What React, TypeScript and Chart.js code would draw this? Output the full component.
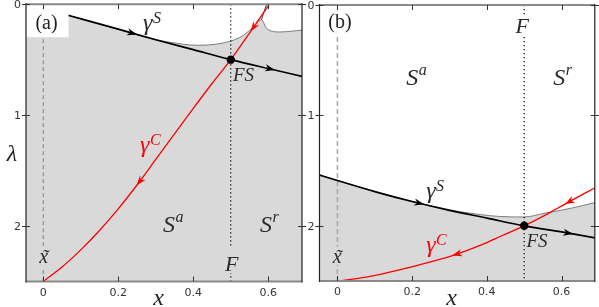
import React, { useEffect, useRef } from "react";
import { Chart, registerables } from "chart.js";
Chart.register(...registerables);

const W = 599;
const H = 307;

// ---------- shared axis ticks ----------
const xTickValues = [0, 0.2, 0.4, 0.6];
const xTickLabels = ["0", "0.2", "0.4", "0.6"];
const yTickValues = [0, 1, 2];
const yTickLabels = ["0", "1", "2"];
const lambdaMin = 0;
const lambdaMax = 2.5;

// ---------- panel (a) ----------
const aFillX = [-0.05, 0.066, 0.2, 0.3, 0.338, 0.41, 0.471, 0.524, 0.556, 0.582, 0.596, 0.631, 0.69];
const aFillL = [0.0, 0.1, 0.225, 0.32, 0.343, 0.37, 0.355, 0.3, 0.219, 0.14, 0.22, 0.25, 0.234];
const aBranchX = [0.582, 0.587, 0.596];
const aBranchL = [0.14, 0.084, 0.0];
const aStableX = [0.066, 0.2, 0.3, 0.4, 0.5, 0.6, 0.69];
const aStableL = [0.1, 0.225, 0.32, 0.41, 0.5, 0.58, 0.65];
const aCritX = [0, 0.05, 0.1, 0.15, 0.2, 0.25, 0.3, 0.35, 0.4, 0.45, 0.5, 0.55, 0.603];
const aCritL = [2.5, 2.37, 2.215, 2.04, 1.845, 1.63, 1.4, 1.17, 0.94, 0.715, 0.5, 0.26, 0.0];
const aFoldX = 0.5;
const aFoldL = 0.5;

// ---------- panel (b) ----------
const bFillX = [-0.05, 0, 0.1, 0.2, 0.3, 0.343, 0.432, 0.5, 0.556, 0.627, 0.69];
const bFillL = [1.538, 1.59, 1.69, 1.78, 1.855, 1.88, 1.915, 1.92, 1.885, 1.84, 1.789];
const bStableX = [-0.05, 0, 0.1, 0.2, 0.3, 0.4, 0.5, 0.6, 0.69];
const bStableL = [1.538, 1.59, 1.69, 1.78, 1.86, 1.93, 2.0, 2.055, 2.11];
const bCritX = [0, 0.077, 0.166, 0.254, 0.312, 0.387, 0.44, 0.5, 0.55, 0.582, 0.627, 0.69];
const bCritL = [2.5, 2.465, 2.4, 2.323, 2.265, 2.17, 2.09, 2.0, 1.915, 1.855, 1.77, 1.655];
const bFoldX = 0.5;
const bFoldL = 2.0;

const xTildeValue = 0;
const GRAY = "#d9d9d9";
const MATH = '"Liberation Serif", "DejaVu Serif", serif';

type Label = {
  base: string; sup?: string; x: number; l: number; size: number; color: string;
  raise?: number; tilde?: boolean; box?: string; boxRect?: [number, number, number, number];
};
type Arrow = { series: string; x: number; dir: number; color: string };

type Panel = {
  tag: string; tagBoxW: number; tagBoxH: number; tagBase: number;
  fillX: number[]; fillL: number[]; branchX?: number[]; branchL?: number[];
  stableX: number[]; stableL: number[]; critX: number[]; critL: number[];
  foldX: number; foldL: number; xMin: number; xMax: number;
  padding: { left: number; right: number; top: number; bottom: number };
  dashColor: string; dashWidth: number; dashPattern: number[];
  showYLabel: boolean; labels: Label[]; arrows: Arrow[];
};

const panelA: Panel = {
  tag: "(a)", tagBoxW: 42, tagBoxH: 33, tagBase: 25,
  fillX: aFillX, fillL: aFillL, branchX: aBranchX, branchL: aBranchL,
  stableX: aStableX, stableL: aStableL, critX: aCritX, critL: aCritL,
  foldX: aFoldX, foldL: aFoldL, xMin: -0.046, xMax: 0.69,
  padding: { left: 26, right: W - 302, top: 4, bottom: H - 281.5 },
  dashColor: "#808080", dashWidth: 1, dashPattern: [4, 3],
  showYLabel: true,
  labels: [
    { base: "γ", sup: "S", x: 0.266, l: 0.234, size: 24, color: "#2a2a2a", raise: 7 },
    { base: "γ", sup: "C", x: 0.258, l: 1.333, size: 24, color: "#ff0000", raise: 7 },
    { base: "S", sup: "a", x: 0.319, l: 2.054, size: 24, color: "#2a2a2a", raise: 10 },
    { base: "S", sup: "r", x: 0.578, l: 2.054, size: 24, color: "#2a2a2a", raise: 10 },
    { base: "FS", x: 0.506, l: 0.694, size: 19, color: "#2a2a2a" },
    { base: "F", x: 0.4845, l: 2.405, size: 22, color: "#2a2a2a", box: GRAY, boxRect: [-3, -25, 20, 27] },
    { base: "x", tilde: true, x: -0.011, l: 2.333, size: 20, color: "#2a2a2a", box: GRAY, boxRect: [-3, -16, 17, 20] },
  ],
  arrows: [
    { series: "stable", x: 0.25, dir: 1, color: "#000" },
    { series: "stable", x: 0.618, dir: 1, color: "#000" },
    { series: "critical", x: 0.553, dir: -1, color: "#ff0000" },
    { series: "critical", x: 0.249, dir: -1, color: "#ff0000" },
  ],
};

const panelB: Panel = {
  tag: "(b)", tagBoxW: 40, tagBoxH: 32, tagBase: 23,
  fillX: bFillX, fillL: bFillL,
  stableX: bStableX, stableL: bStableL, critX: bCritX, critL: bCritL,
  foldX: bFoldX, foldL: bFoldL, xMin: -0.048, xMax: 0.689,
  padding: { left: 319.5, right: W - 596.5, top: 5, bottom: H - 281 },
  dashColor: "#aaaaaa", dashWidth: 1.6, dashPattern: [5, 3],
  showYLabel: false,
  labels: [
    { base: "F", x: 0.477, l: 0.253, size: 22, color: "#2a2a2a", box: "#ffffff", boxRect: [-3, -16, 18, 18] },
    { base: "S", sup: "a", x: 0.184, l: 0.724, size: 24, color: "#2a2a2a", raise: 10 },
    { base: "S", sup: "r", x: 0.578, l: 0.724, size: 24, color: "#2a2a2a", raise: 10 },
    { base: "γ", sup: "S", x: 0.2375, l: 1.747, size: 24, color: "#2a2a2a", raise: 7 },
    { base: "FS", x: 0.506, l: 2.19, size: 19, color: "#2a2a2a" },
    { base: "γ", sup: "C", x: 0.2375, l: 2.235, size: 24, color: "#ff0000", raise: 7 },
    { base: "x", tilde: true, x: -0.0125, l: 2.335, size: 20, color: "#2a2a2a", box: GRAY, boxRect: [-3, -16, 16, 18] },
  ],
  arrows: [
    { series: "stable", x: 0.232, dir: 1, color: "#000" },
    { series: "stable", x: 0.631, dir: 1, color: "#000" },
    { series: "critical", x: 0.609, dir: -1, color: "#ff0000" },
    { series: "critical", x: 0.307, dir: -1, color: "#ff0000" },
  ],
};

const pts = (xs: number[], ls: number[]) => xs.map((x, i) => ({ x, y: ls[i] }));

function drawArrowHead(ctx: CanvasRenderingContext2D, tx: number, ty: number, dx: number, dy: number, color: string) {
  const len = Math.hypot(dx, dy) || 1;
  const ux = dx / len, uy = dy / len;
  const nx = -uy, ny = ux;
  const L = 10, Wd = 3.6, N = 3;
  ctx.fillStyle = color;
  ctx.beginPath();
  ctx.moveTo(tx, ty);
  ctx.lineTo(tx - L * ux + Wd * nx, ty - L * uy + Wd * ny);
  ctx.lineTo(tx - (L - N) * ux, ty - (L - N) * uy);
  ctx.lineTo(tx - L * ux - Wd * nx, ty - L * uy - Wd * ny);
  ctx.closePath();
  ctx.fill();
}

function decorPlugin(p: Panel) {
  return {
    id: "decor" + p.tag.replace(/[()]/g, ""),
    afterDatasetsDraw(chart: any) {
      const { ctx, chartArea: ca, scales } = chart;
      const X = (v: number) => scales.x.getPixelForValue(v);
      const Y = (v: number) => scales.y.getPixelForValue(v);
      ctx.save();

      // arrow heads along the library-computed line points
      for (const a of p.arrows) {
        const idx = chart.data.datasets.findIndex((d: any) => d.label === a.series);
        const el = chart.getDatasetMeta(idx).data;
        const px = X(a.x);
        for (let j = 0; j < el.length - 1; j++) {
          const p0 = el[j], p1 = el[j + 1];
          const lo = Math.min(p0.x, p1.x), hi = Math.max(p0.x, p1.x);
          if (px >= lo && px <= hi) {
            const t = (px - p0.x) / (p1.x - p0.x || 1);
            const py = p0.y + t * (p1.y - p0.y);
            const dx = (p1.x - p0.x) * a.dir, dy = (p1.y - p0.y) * a.dir;
            drawArrowHead(ctx, px, py, dx, dy, a.color);
            break;
          }
        }
      }

      // panel tag with white box
      ctx.fillStyle = "#ffffff";
      ctx.fillRect(ca.left + 0.5, ca.top, p.tagBoxW, p.tagBoxH);
      ctx.fillStyle = "#222";
      ctx.font = `20px ${MATH}`;
      ctx.textAlign = "center";
      ctx.textBaseline = "alphabetic";
      ctx.fillText(p.tag, ca.left + 20.5, ca.top + p.tagBase);

      // math labels
      for (const l of p.labels) {
        const px = X(l.x), py = Y(l.l);
        if (l.box && l.boxRect) {
          ctx.fillStyle = l.box;
          ctx.fillRect(px + l.boxRect[0], py + l.boxRect[1], l.boxRect[2], l.boxRect[3]);
        }
        ctx.font = `italic ${l.size}px ${MATH}`;
        ctx.textAlign = "left";
        ctx.fillStyle = l.color;
        const w = ctx.measureText(l.base).width;
        ctx.fillText(l.base, px, py);
        if (l.tilde) {
          ctx.textAlign = "center";
          ctx.fillText("\u02DC", px + w / 2 + 1.5, py + 1);
        }
        if (l.sup) {
          ctx.textAlign = "left";
          ctx.font = `italic ${Math.round(l.size * 0.68)}px ${MATH}`;
          ctx.fillText(l.sup, px + w + 0.5, py - (l.raise || 8));
        }
      }

      // frame
      ctx.strokeStyle = "#8a8a8a";
      ctx.lineWidth = 2;
      ctx.beginPath();
      ctx.moveTo(ca.left, ca.top); ctx.lineTo(ca.right, ca.top);
      ctx.moveTo(ca.left, ca.bottom); ctx.lineTo(ca.right, ca.bottom);
      ctx.stroke();
      ctx.strokeStyle = "#222";
      ctx.lineWidth = 1.2;
      ctx.beginPath();
      ctx.moveTo(ca.left, ca.top - 1); ctx.lineTo(ca.left, ca.bottom + 1);
      ctx.moveTo(ca.right, ca.top - 1); ctx.lineTo(ca.right, ca.bottom + 1);
      ctx.stroke();

      // ticks
      ctx.strokeStyle = "#333";
      ctx.lineWidth = 1;
      ctx.beginPath();
      for (const v of xTickValues) {
        const x = Math.round(X(v)) + 0.5;
        ctx.moveTo(x, ca.bottom); ctx.lineTo(x, ca.bottom - 5);
        ctx.moveTo(x, ca.top); ctx.lineTo(x, ca.top + 5);
      }
      for (const v of yTickValues) {
        const y = Math.round(Y(v)) + 0.5;
        ctx.moveTo(ca.left - 4, y); ctx.lineTo(ca.left + 4, y);
        ctx.moveTo(ca.right - 4, y); ctx.lineTo(ca.right + 4, y);
      }
      ctx.stroke();

      // tick labels
      ctx.fillStyle = "#333";
      ctx.font = '11px "DejaVu Sans"';
      ctx.textBaseline = "alphabetic";
      ctx.textAlign = "center";
      xTickValues.forEach((v, i) => ctx.fillText(xTickLabels[i], X(v), ca.bottom + 14));
      ctx.textAlign = "right";
      yTickValues.forEach((v, i) => ctx.fillText(yTickLabels[i], ca.left - 5, Y(v) + 4));

      // axis labels
      ctx.fillStyle = "#222";
      ctx.font = `italic 24px ${MATH}`;
      ctx.textAlign = "center";
      ctx.fillText("x", (ca.left + ca.right) / 2 - 5.5, H - 2);
      if (p.showYLabel) ctx.fillText("λ", ca.left - 14, 161);

      ctx.restore();
    },
  };
}

function makeConfig(p: Panel): any {
  const datasets: any[] = [
    { label: "fold", data: [{ x: p.foldX, y: p.foldL }], showLine: false, pointRadius: 4.2,
      pointBackgroundColor: "#000", pointBorderWidth: 0, order: 0 },
    { label: "critical", data: pts(p.critX, p.critL), borderColor: "#ff0000", borderWidth: 1.3,
      pointRadius: 0, cubicInterpolationMode: "monotone", fill: false, order: 1 },
    { label: "stable", data: pts(p.stableX, p.stableL), borderColor: "#000", borderWidth: 1.7,
      pointRadius: 0, cubicInterpolationMode: "monotone", fill: false, order: 2 },
    { label: "xtilde", data: [{ x: xTildeValue, y: lambdaMin }, { x: xTildeValue, y: lambdaMax }],
      borderColor: p.dashColor, borderWidth: p.dashWidth, borderDash: p.dashPattern, pointRadius: 0, fill: false, order: 5 },
    { label: "foldline", data: [{ x: p.foldX, y: lambdaMin }, { x: p.foldX, y: lambdaMax }],
      borderColor: "#000", borderWidth: 1.2, borderDash: [1.2, 2.8], pointRadius: 0, fill: false, order: 6 },
    { label: "region", data: pts(p.fillX, p.fillL), borderColor: "#707070", borderWidth: 0.9,
      backgroundColor: GRAY, fill: { value: lambdaMax }, pointRadius: 0, cubicInterpolationMode: "monotone", order: 10 },
  ];
  if (p.branchX && p.branchL) {
    datasets.push({ label: "branch", data: pts(p.branchX, p.branchL), borderColor: "#333", borderWidth: 1,
      pointRadius: 0, tension: 0.3, fill: false, order: 4 });
  }
  return {
    type: "line",
    data: { datasets },
    options: {
      responsive: false,
      animation: false,
      devicePixelRatio: 1,
      events: [],
      layout: { padding: p.padding },
      scales: {
        x: { type: "linear", min: p.xMin, max: p.xMax, display: false },
        y: { type: "linear", min: lambdaMin, max: lambdaMax, reverse: true, display: false },
      },
      plugins: { legend: { display: false }, tooltip: { enabled: false } },
    },
    plugins: [decorPlugin(p)],
  };
}

export default function App() {
  const refA = useRef<HTMLCanvasElement>(null);
  const refB = useRef<HTMLCanvasElement>(null);
  useEffect(() => {
    document.body.style.margin = "0";
    const ca = new Chart(refA.current!, makeConfig(panelA));
    const cb = new Chart(refB.current!, makeConfig(panelB));
    return () => { ca.destroy(); cb.destroy(); };
  }, []);
  const st: React.CSSProperties = { position: "absolute", left: 0, top: 0, width: W, height: H };
  return (
    <div style={{ position: "relative", width: W, height: H, background: "#fff", overflow: "hidden" }}>
      <canvas ref={refA} width={W} height={H} style={st} />
      <canvas ref={refB} width={W} height={H} style={st} />
    </div>
  );
}
